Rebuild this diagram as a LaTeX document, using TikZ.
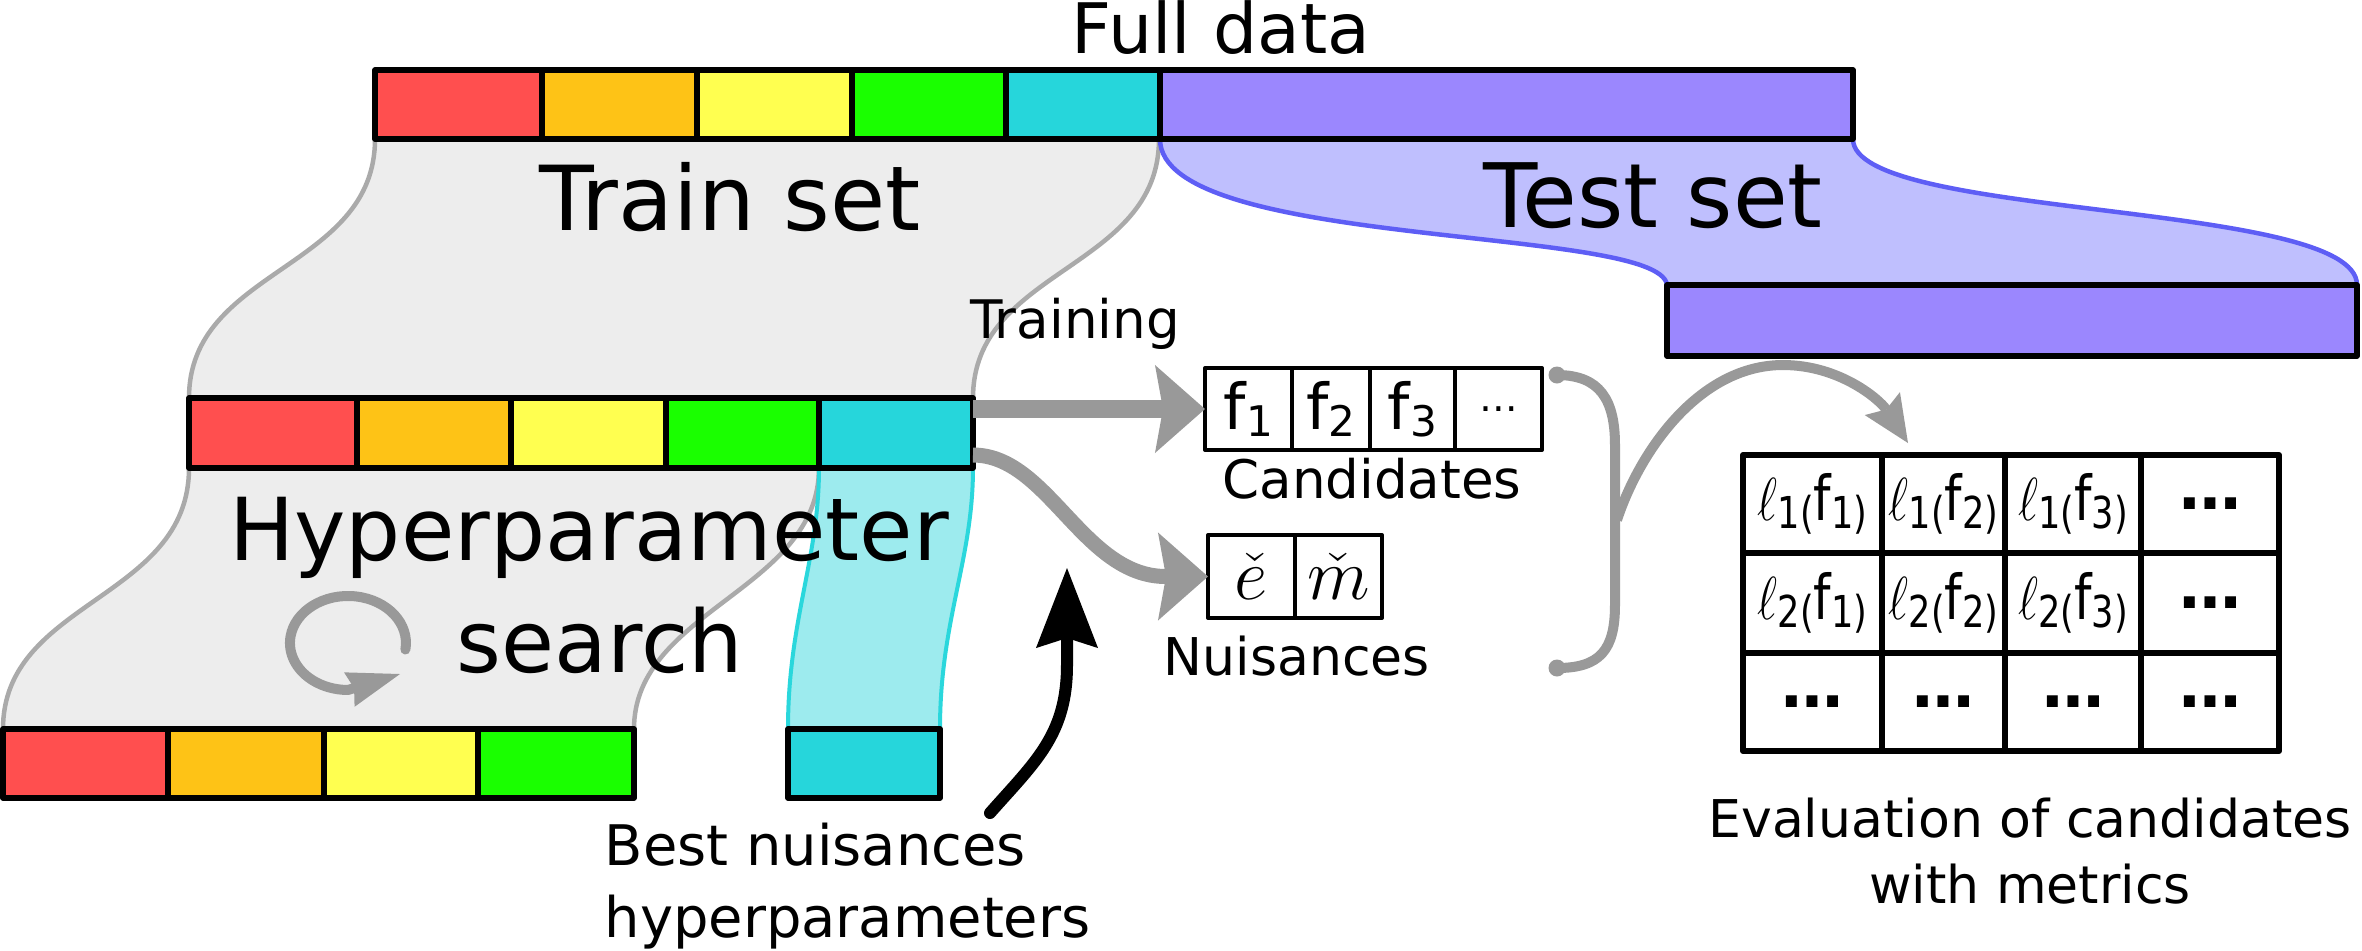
\documentclass[tikz,border=0pt]{standalone}
\usepackage{graphicx}
\usepackage{fontspec}
\setmainfont{DejaVu Sans}
\usetikzlibrary{arrows.meta}
\definecolor{cred}{HTML}{FF4F4F}
\definecolor{corange}{HTML}{FEC316}
\definecolor{cyellow}{HTML}{FFFF50}
\definecolor{cgreen}{HTML}{1AFF00}
\definecolor{ccyan}{HTML}{26D6DB}
\definecolor{cpurple}{HTML}{9B87FE}
\definecolor{lpurple}{HTML}{BFBFFE}
\definecolor{pline}{HTML}{5E5EF5}
\definecolor{gfill}{HTML}{EDEDED}
\definecolor{gline}{HTML}{AAAAAA}
\definecolor{lcyan}{HTML}{9DEBEE}
\definecolor{cline}{HTML}{2AD7DC}
\definecolor{agray}{HTML}{999999}
\newcommand\fs[1]{\fontsize{#1pt}{#1pt}\selectfont}
\newcommand\csub[1]{\raisebox{-0.07cm}{\fontsize{12pt}{12pt}\selectfont #1}}
\newcommand\tsub[1]{\raisebox{-0.08cm}{\fontsize{12.5pt}{12.5pt}\selectfont #1}}
\newcommand\lf[2]{\scalebox{0.8}[1]{{\fs{19}$\ell$}\tsub{#1(}f\tsub{#2)}}}
\newcommand\rbox[7]{\node[#7, minimum width={(#4-#2)*0.01cm}, minimum height={(#5-#3)*0.01cm}] (#1) at ({(#2+#4)/2},{(#3+#5)/2}) {#6};}
\tikzset{
  segst/.style={draw=black, line width=0.055cm, inner sep=0pt, outer sep=0pt},
  cbox/.style={draw=black, fill=white, line width=0.04cm, inner sep=0pt, outer sep=0pt, font=\fs{18}},
  tcell/.style={draw=black, fill=white, line width=0.06cm, inner sep=0pt, outer sep=0pt, font=\fs{17.6}},
  lab/.style={inner sep=0pt, anchor=base, text=black},
  garr/.style={draw=agray, line width=0.18cm, -{Stealth[length=0.5cm, width=0.88cm, inset=0.08cm, line width=0pt]}},
  garrb/.style={draw=agray, line width=0.15cm, -{Stealth[length=0.5cm, width=0.88cm, inset=0.08cm, line width=0pt]}},
  barr/.style={draw=black, line width=0.12cm, line cap=round, -{Stealth[length=0.8cm, width=0.62cm, inset=0.1cm, line width=0pt]}},
  tarr/.style={draw=agray, line width=0.1cm, -{Stealth[length=0.47cm, width=0.42cm, inset=0.07cm, line width=0pt]}},
  carr/.style={draw=agray, line width=0.1cm, line cap=round, -{Stealth[length=0.53cm, width=0.36cm, inset=0.05cm, line width=0pt]}},
  bracest/.style={draw=agray, line width=0.1cm, line cap=round},
}
\begin{document}
\begin{tikzpicture}[x=0.01cm, y=-0.01cm, line join=round]
\useasboundingbox (0,0) rectangle (2362,950);

% bands
\filldraw[fill=gfill, draw=gline, line width=0.045cm]
  (375,139) .. controls (375,270) and (189,268) .. (189,398) -- (973,398)
  .. controls (973,268) and (1159,270) .. (1159,139) -- cycle;
\filldraw[fill=lpurple, draw=pline, line width=0.045cm]
  (1160,139) .. controls (1160,250) and (1660,225) .. (1667,285) -- (2357,285)
  .. controls (2357,200) and (1853,220) .. (1853,139) -- cycle;
\filldraw[fill=gfill, draw=gline, line width=0.045cm]
  (189,468) .. controls (189,600) and (3,600) .. (3,729) -- (634,729)
  .. controls (634,610) and (819,590) .. (819,468) -- cycle;
\filldraw[fill=lcyan, draw=cline, line width=0.04cm]
  (819,468) .. controls (819,560) and (788,620) .. (788,729) -- (940,729)
  .. controls (940,620) and (973,560) .. (973,468) -- cycle;

% top bar
\rbox{t1}{375}{70}{542}{139}{}{segst, fill=cred}
\rbox{t2}{542}{70}{697}{139}{}{segst, fill=corange}
\rbox{t3}{697}{70}{852}{139}{}{segst, fill=cyellow}
\rbox{t4}{852}{70}{1006}{139}{}{segst, fill=cgreen}
\rbox{t5}{1006}{70}{1160}{139}{}{segst, fill=ccyan}
\rbox{t6}{1160}{70}{1853}{139}{}{segst, fill=cpurple}
% test bar
\rbox{tb}{1667}{285}{2357}{356}{}{segst, fill=cpurple}
% middle bar
\rbox{m1}{189}{398}{357}{468}{}{segst, fill=cred}
\rbox{m2}{357}{398}{511}{468}{}{segst, fill=corange}
\rbox{m3}{511}{398}{666}{468}{}{segst, fill=cyellow}
\rbox{m4}{666}{398}{819}{468}{}{segst, fill=cgreen}
\rbox{m5}{819}{398}{973}{468}{}{segst, fill=ccyan}
% bottom bar
\rbox{b1}{3}{729}{168}{798}{}{segst, fill=cred}
\rbox{b2}{168}{729}{324}{798}{}{segst, fill=corange}
\rbox{b3}{324}{729}{478}{798}{}{segst, fill=cyellow}
\rbox{b4}{478}{729}{634}{798}{}{segst, fill=cgreen}
\rbox{bc}{788}{729}{940}{798}{}{segst, fill=ccyan}

% candidates
\rbox{c1}{1205}{368}{1292}{450}{f\csub{1}}{cbox}
\rbox{c2}{1292}{368}{1370}{450}{f\csub{2}}{cbox}
\rbox{c3}{1370}{368}{1455}{450}{f\csub{3}}{cbox}
\rbox{c4}{1455}{368}{1542}{450}{\fs{11}…}{cbox}
% nuisances
\rbox{n1}{1208}{535}{1295}{618}{\fs{22}$\check{e}$}{cbox}
\rbox{n2}{1295}{535}{1382}{618}{\fs{22}$\check{m}$}{cbox}

% table
\rbox{r1c1}{1743}{455}{1882}{553}{\lf{1}{1}}{tcell}
\rbox{r1c2}{1882}{455}{2005}{553}{\lf{1}{2}}{tcell}
\rbox{r1c3}{2005}{455}{2141}{553}{\lf{1}{3}}{tcell}
\rbox{r1c4}{2141}{455}{2279}{553}{\bfseries …}{tcell}
\rbox{r2c1}{1743}{553}{1882}{653}{\lf{2}{1}}{tcell}
\rbox{r2c2}{1882}{553}{2005}{653}{\lf{2}{2}}{tcell}
\rbox{r2c3}{2005}{553}{2141}{653}{\lf{2}{3}}{tcell}
\rbox{r2c4}{2141}{553}{2279}{653}{\bfseries …}{tcell}
\rbox{r3c1}{1743}{653}{1882}{751}{\bfseries …}{tcell}
\rbox{r3c2}{1882}{653}{2005}{751}{\bfseries …}{tcell}
\rbox{r3c3}{2005}{653}{2141}{751}{\bfseries …}{tcell}
\rbox{r3c4}{2141}{653}{2279}{751}{\bfseries …}{tcell}

% texts
\node[lab, font=\fs{19.8}] (full) at (1221,53) {Full data};
\node[lab, font=\fs{25.5}] (train) at (730,230) {Train set};
\node[lab, font=\fs{25.3}] (test) at (1653,227) {Test set};
\node[lab, font=\fs{24.7}] (hyp) at (589,560) {Hyperparameter};
\node[lab, font=\fs{24.5}] (search) at (600,672) {search};
\node[lab, font=\fs{15.1}] (training) at (1075,338) {Training};
\node[lab, font=\fs{15.1}] (cand) at (1372,498) {Candidates};
\node[lab, font=\fs{14.8}] (nuis) at (1297,675) {Nuisances};
\node[lab, font=\fs{15.9}, anchor=base west] (best1) at (604,865) {Best nuisances};
\node[lab, font=\fs{15.9}, anchor=base west] (best2) at (604,937) {hyperparameters};
\node[lab, font=\fs{14.8}] (eval1) at (2030,837) {Evaluation of candidates};
\node[lab, font=\fs{14.8}] (eval2) at (2030,903) {with metrics};

% connectors
\draw[garr] (m5.east |- c1.west) -- (c1.west);
\draw[garrb] ([yshift=-0.22cm]m5.east) .. controls +(75,0) and +(-125,0) .. (n1.west);

\coordinate (brtop) at (1557,375);
\coordinate (brbot) at (1557,668);
\coordinate (brmid) at (1617,520);
\coordinate (ttip) at (1908,443);
\draw[bracest] (brtop) .. controls (1600,375) and (1615,400) .. (1615,445)
  -- (1615,605) .. controls (1615,650) and (1600,668) .. (brbot);
\fill[agray] (brtop) circle[radius=0.085cm];
\fill[agray] (brbot) circle[radius=0.085cm];
\draw[tarr] (brmid) .. controls (1640,450) and (1700,365) .. (1783,365)
  .. controls (1840,365) and (1880,400) .. (ttip);

\draw[carr] (405.4,649.5) arc[start angle=8, end angle=-270, x radius=58, y radius=47] -- (400,674);

\coordinate (bst) at (990,813);
\coordinate (btip) at (1067,568);
\draw[barr] (bst) .. controls (1035,762) and (1067,735) .. (1067,665) -- (btip);
\end{tikzpicture}
\end{document}
